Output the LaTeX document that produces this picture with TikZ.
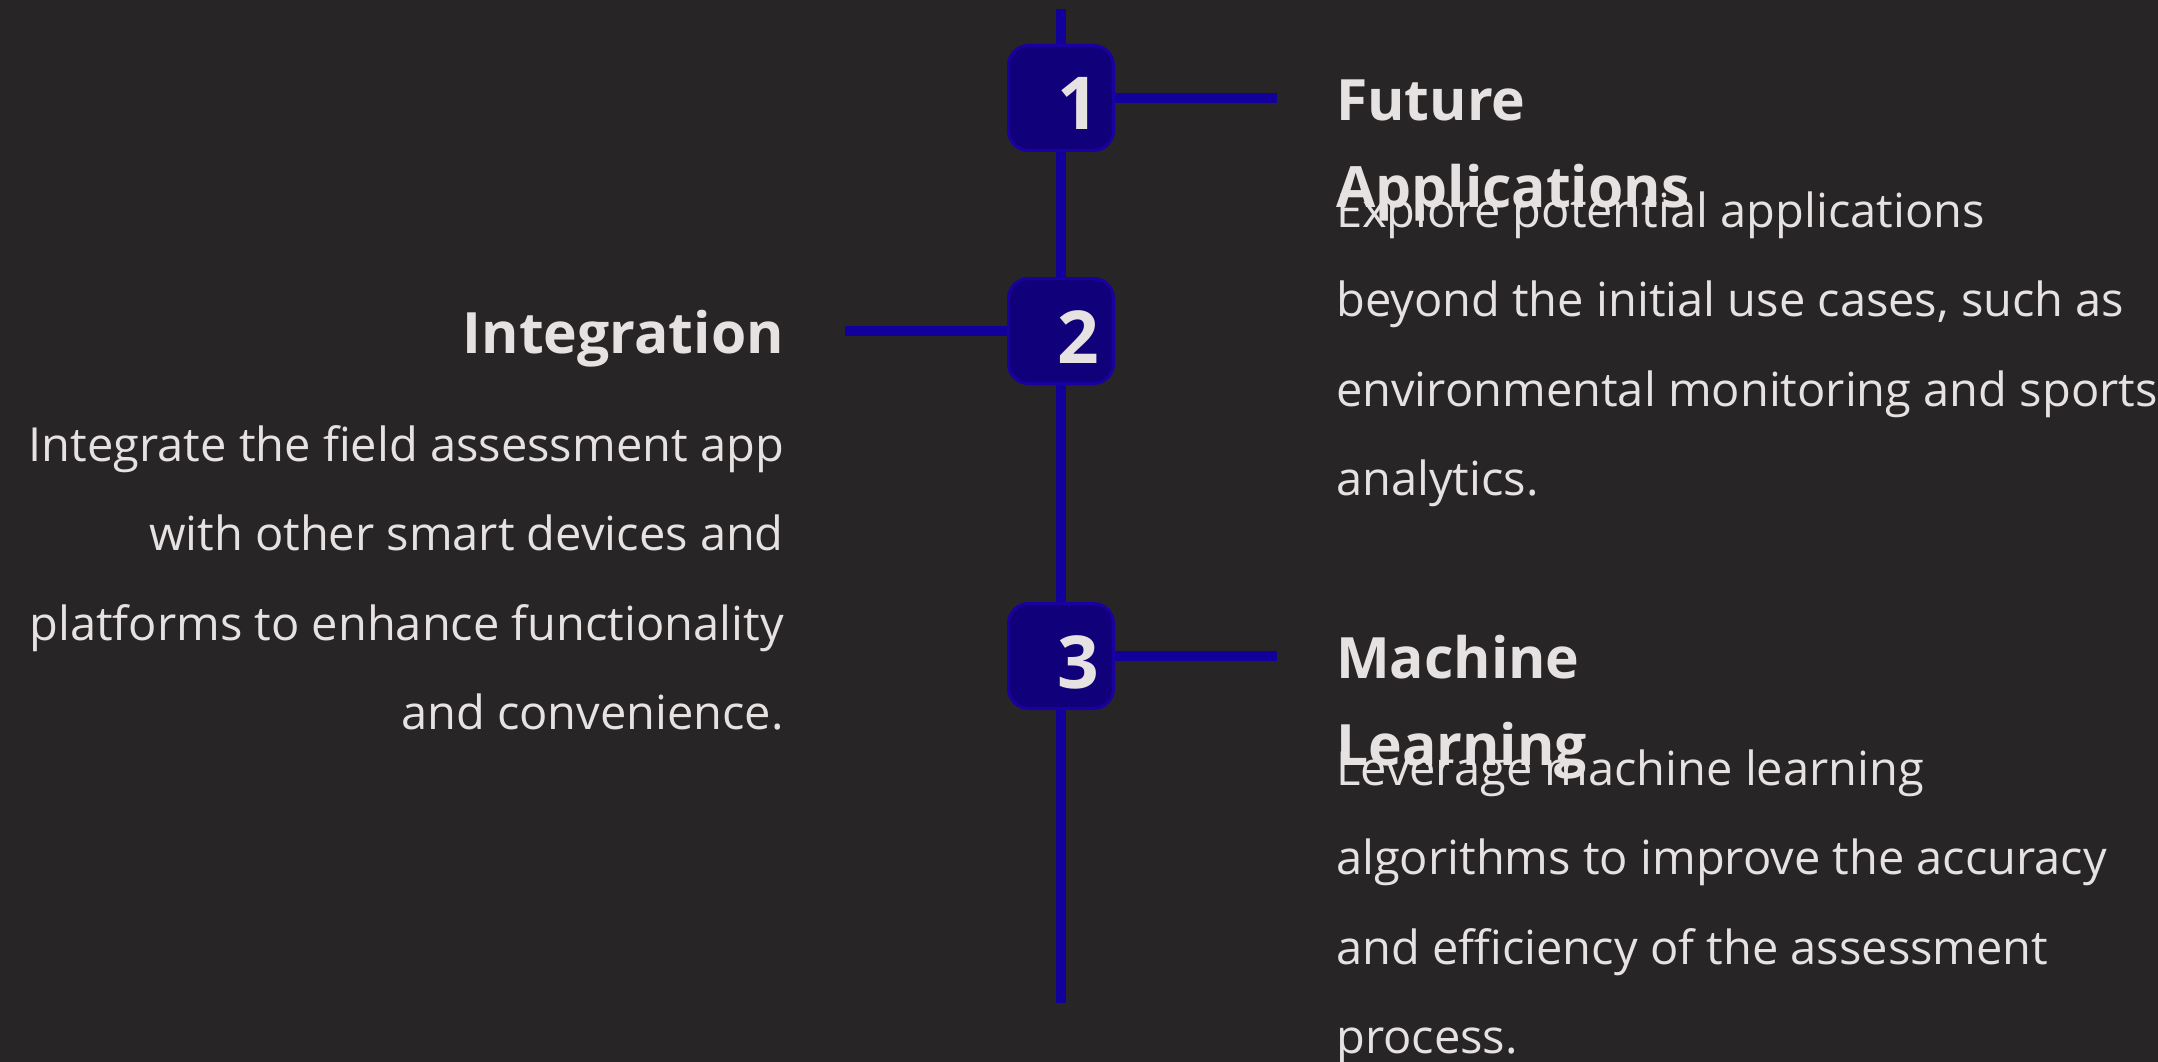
\documentclass[tikz,border=0pt]{standalone}
\usepackage{fontspec}
\setmainfont{Open Sans}
\definecolor{bgc}{HTML}{272526}
\definecolor{linec}{HTML}{12009A}
\definecolor{boxfill}{HTML}{10007A}
\definecolor{boxedge}{HTML}{1A00A0}
\definecolor{txtc}{HTML}{E7E2E2}
\begin{document}
\begin{tikzpicture}[x=1pt,y=-1pt,
  spine/.style={draw=linec,line width=10pt},
  conn/.style={draw=linec,line width=10pt},
  numbox/.style={draw=boxedge,fill=boxfill,line width=3pt,rounded corners=20pt,
    minimum width=105pt,minimum height=105pt,inner sep=0pt},
  digit/.style={text=txtc,font=\fontsize{73}{73}\selectfont\bfseries,inner sep=0pt,anchor=base west},
  ttl/.style={text=txtc,font=\fontsize{57}{87}\selectfont\bfseries,inner sep=0pt},
  body/.style={text=txtc,font=\fontsize{47}{89.5}\selectfont,inner sep=0pt}]
\fill[bgc] (0,0) rectangle (2158,1062);
\useasboundingbox (0,0) rectangle (2158,1062);
% spine
\coordinate (top) at (1061,9);
\coordinate (bot) at (1061,1003);
\draw[spine] (top) -- (bot);
% boxes
\node[numbox] (b1) at (1061,98) {};
\node[numbox] (b2) at (1061,331) {};
\node[numbox] (b3) at (1061,656) {};
\node[digit] (d1) at (1057,130) {1};
\node[digit] (d2) at (1057,363) {2};
\node[digit] (d3) at (1057,688) {3};
% connectors
\coordinate (c1) at (1277,98);
\coordinate (c2) at (845,331);
\coordinate (c3) at (1277,656);
\draw[conn] (b1.east) -- (c1);
\draw[conn] (b2.west) -- (c2);
\draw[conn] (b3.east) -- (c3);
% right texts 1 (base anchor = last line's baseline)
\node[ttl,anchor=base west,align=left] (t1) at (1336,207) {Future\\Applications};
\node[body,anchor=base west,align=left] (p1) at (1336,495.5)
  {Explore potential applications\\beyond the initial use cases, such as\\environmental monitoring and sports\\analytics.};
% left texts 2
\node[ttl,anchor=base east,align=right] (t2) at (784,353) {Integration};
\node[body,anchor=base east,align=right] (p2) at (784,729.5)
  {Integrate the field assessment app\\with other smart devices and\\platforms to enhance functionality\\and convenience.};
% right texts 3
\node[ttl,anchor=base west,align=left] (t3) at (1336,765) {Machine\\Learning};
\node[body,anchor=base west,align=left] (p3) at (1336,1053.5)
  {Leverage machine learning\\algorithms to improve the accuracy\\and efficiency of the assessment\\process.};
\end{tikzpicture}
\end{document}
